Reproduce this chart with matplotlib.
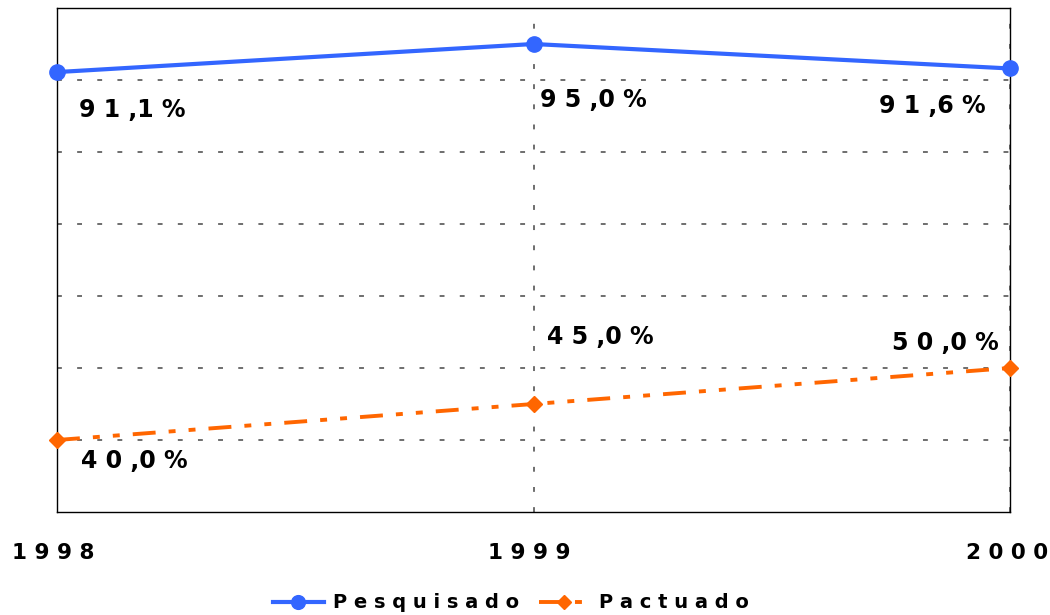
import numpy as np
import matplotlib.pyplot as plt
from matplotlib.transforms import ScaledTranslation

years = ['1998', '1999', '2000']
pesquisado = [91.1, 95.0, 91.6]
pactuado = [40.0, 45.0, 50.0]

# label offsets in points (dx, dy) relative to each point
off_pesq = [(16, -27), (5, -40), (-94, -27)]
off_pact = [(17, -15), (10, 48), (-85, 18)]


def spaced(s):
    return ' '.join(s)


def pct(v):
    s = f'{v:.1f}'.replace('.', ',')
    a, b = s.split(',')
    return ' '.join(a) + ' ,' + b + ' %'


plt.rcParams['font.family'] = 'DejaVu Sans'
plt.rcParams['lines.scale_dashes'] = False
fig = plt.figure(figsize=(10.5, 6.15), dpi=100)
ax = fig.add_axes([57 / 1050, 1 - 512 / 615, (1010 - 57) / 1050, (512 - 8) / 615])

X = np.arange(len(years))
ax.plot(X, pesquisado, color='#3366FF', lw=3, marker='o', ms=11,
        label=spaced('Pesquisado'), clip_on=False, zorder=3)
ax.plot(X, pactuado, color='#FF6600', lw=2.8, marker='D', ms=8,
        dashes=(16.5, 9.4, 5, 9.4, 5, 9.4), label=spaced('Pactuado'),
        clip_on=False, zorder=3)

for i, v in enumerate(pesquisado):
    ax.annotate(pct(v), (X[i], v), xytext=off_pesq[i], textcoords='offset points',
                fontsize=17, fontweight='bold', ha='left', va='center')
for i, v in enumerate(pactuado):
    ax.annotate(pct(v), (X[i], v), xytext=off_pact[i], textcoords='offset points',
                fontsize=17, fontweight='bold', ha='left', va='center')

ax.set_xlim(0, 2)
ax.set_ylim(30, 100)
ax.set_yticks(np.arange(40, 100, 10))
ax.set_yticklabels([])
ax.tick_params(axis='y', length=0)
ax.set_xticks(X)
ax.set_xticklabels([spaced(y) for y in years], fontsize=15.5, fontweight='bold')
ax.tick_params(axis='x', length=0, pad=22)
for lab in ax.get_xticklabels()[:2]:
    lab.set_transform(lab.get_transform() + ScaledTranslation(-0.04, 0, fig.dpi_scale_trans))
last = ax.get_xticklabels()[-1]
last.set_ha('right')
last.set_transform(last.get_transform() + ScaledTranslation(0.38, 0, fig.dpi_scale_trans))

ax.grid(True, color='#555555', lw=1.2, linestyle=(0, (3.5, 11)))
for s in ax.spines.values():
    s.set_color('black')
    s.set_linewidth(1)

fig.legend(loc='center', bbox_to_anchor=(511 / 1050, 1 - 603 / 615), ncol=2,
           frameon=False, prop={'size': 14, 'weight': 'bold'}, handlelength=2.6,
           columnspacing=1.0, handletextpad=0.5, markerscale=0.9)

plt.savefig('out.png', dpi=100)
